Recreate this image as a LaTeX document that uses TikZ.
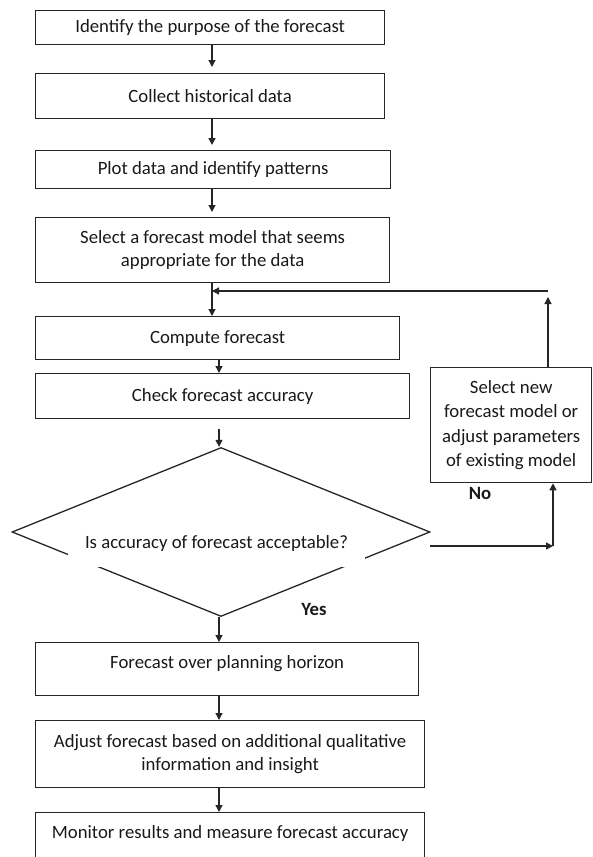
\documentclass[tikz,border=0pt]{standalone}
\usepackage{fontspec}
\setmainfont{Carlito}
\usetikzlibrary{shapes.geometric,arrows.meta}
\tikzset{
  stepbox/.style={draw=black!85, line width=1.3pt, rectangle, anchor=north west, align=center, inner sep=2pt, text=black!90, font=\fontsize{18.75}{23}\selectfont},
  flow/.style={draw=black!85, line width=1.3pt, -{Triangle[length=7pt,width=7pt]}},
  answer/.style={text=black!90, font=\fontsize{18.75}{23}\selectfont\bfseries}
}
\begin{document}
\begin{tikzpicture}[x=1pt,y=-1pt]
\useasboundingbox (0,0) rectangle (592,857);
\coordinate (up) at (212,0);
\coordinate (lo) at (219,0);
\node[stepbox, minimum width=349pt, minimum height=34pt] (purpose) at (35,10) {Identify the purpose of the forecast};
\node[stepbox, minimum width=349pt, minimum height=45pt] (collect) at (35,73) {Collect historical data};
\node[stepbox, minimum width=355pt, minimum height=38pt] (plot) at (35,150) {Plot data and identify patterns};
\node[stepbox, minimum width=354pt, minimum height=65pt] (model) at (35,217) {Select a forecast model that seems\\appropriate for the data};
\node[stepbox, minimum width=364pt, minimum height=43pt] (compute) at (35,316) {Compute forecast};
\node[stepbox, minimum width=374pt, minimum height=45pt] (check) at (35,373) {Check forecast accuracy};
\node[stepbox, minimum width=161pt, minimum height=115pt, font=\fontsize{18.75}{24.5}\selectfont] (newmodel) at (430,367) {Select new\\forecast model or\\adjust parameters\\of existing model};
\node[draw=black!85, line width=1.3pt, diamond, inner sep=0pt, minimum width=418pt, minimum height=169pt] (accept) at (221,532) {};
\node[fill=white, inner sep=0pt, minimum width=297pt, minimum height=48pt, text=black!90, font=\fontsize{18.75}{23}\selectfont] (question) at (216.5,543) {Is accuracy of forecast acceptable?};
\node[stepbox, minimum width=383pt, minimum height=53pt, text depth=14pt] (horizon) at (35,642) {Forecast over planning horizon};
\node[stepbox, minimum width=389pt, minimum height=67pt] (adjust) at (35,720) {Adjust forecast based on additional qualitative\\information and insight};
\node[stepbox, minimum width=389pt, minimum height=80pt, text depth=41pt] (monitor) at (35,812) {Monitor results and measure forecast accuracy};
\node[answer] (no) at (480,493) {No};
\node[answer] (yes) at (314,609) {Yes};
\coordinate (back) at (548,291);
\coordinate (nostart) at (430,546);
\coordinate (nocorner) at (553,546);
\draw[flow, shorten >=6pt] (purpose.south -| up) -- (collect.north -| up);
\draw[flow, shorten >=5pt] (collect.south -| up) -- (plot.north -| up);
\draw[flow, shorten >=5pt] (plot.south -| up) -- (model.north -| up);
\draw[flow] (model.south -| up) -- (compute.north -| up);
\draw[flow] (compute.south -| lo) -- (check.north -| lo);
\draw[flow] ([yshift=-10pt]check.south -| lo) -- (accept.north -| lo);
\draw[flow] (accept.south -| lo) -- (horizon.north -| lo);
\draw[flow] (horizon.south -| lo) -- (adjust.north -| lo);
\draw[flow] (adjust.south -| lo) -- (monitor.north -| lo);
\draw[flow] (nostart) -- (nocorner);
\draw[flow] (nocorner) -- (newmodel.south -| nocorner);
\draw[flow, shorten >=6pt] (newmodel.north -| back) -- (back);
\draw[flow] (back) -- (back -| up);
\end{tikzpicture}
\end{document}
